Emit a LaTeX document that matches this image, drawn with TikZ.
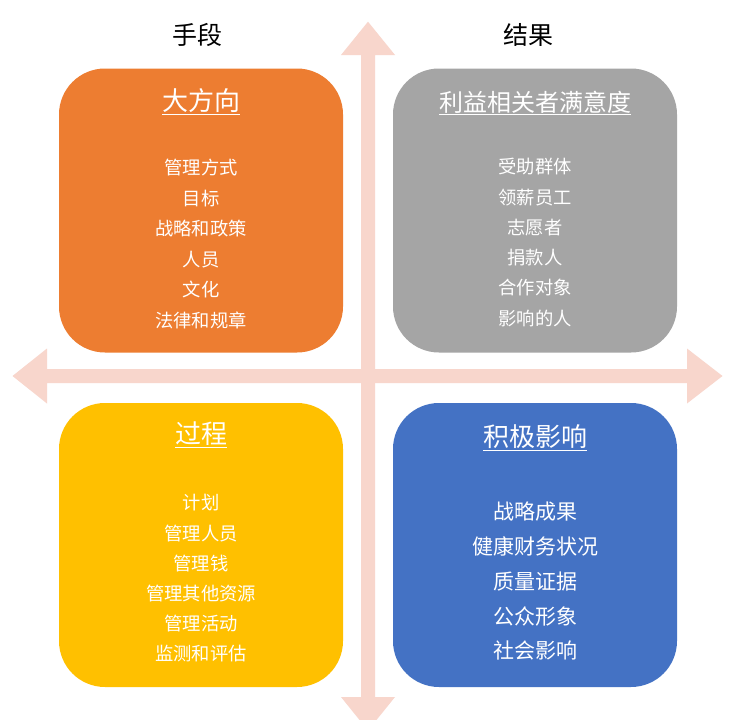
\documentclass[tikz,border=0pt]{standalone}
\usepackage{fontspec}
\setmainfont{Noto Sans CJK SC}
\definecolor{boxorange}{HTML}{ED7D31}
\definecolor{boxgray}{HTML}{A5A5A5}
\definecolor{boxyellow}{HTML}{FFC000}
\definecolor{boxblue}{HTML}{4472C4}
\definecolor{arrowpink}{HTML}{F8D6CC}
\begin{document}
\begin{tikzpicture}[x=1pt,y=-1pt,
  quad/.style={rounded corners=46pt, minimum width=284pt, minimum height=284pt, inner sep=0pt, draw=none},
  ttl/.style={text=white, inner sep=0pt, font=\fontsize{26}{30}\selectfont},
  itm/.style={text=white, inner sep=0pt, font=\fontsize{18.3}{22}\selectfont},
  itmb/.style={text=white, inner sep=0pt, font=\fontsize{21}{25}\selectfont},
  hd/.style={text=black, inner sep=0pt, font=\fontsize{25}{30}\selectfont},
  arr/.style={fill=arrowpink, draw=none}]
\clip (0,0) rectangle (748,720);
\fill[white] (0,0) rectangle (748,720);
% horizontal double arrow
\fill[arr] (12.5,376) -- (47,348.5) -- (47,369) -- (687,369) -- (687,348.5) -- (722.5,376)
  -- (687,403.5) -- (687,383) -- (47,383) -- (47,403.5) -- cycle;
% vertical double arrow
\fill[arr] (368,21.7) -- (395,55) -- (375,55) -- (375,697) -- (395,697) -- (368,730.5)
  -- (341,697) -- (361,697) -- (361,55) -- (341,55) -- cycle;
% headings
\node[hd] (h1) at (197,35) {手段};
\node[hd] (h2) at (528,35) {结果};
% boxes
\node[quad, fill=boxorange] (q1) at (201,210.5) {};
\node[quad, fill=boxgray]   (q2) at (535,210.5) {};
\node[quad, fill=boxyellow] (q3) at (201,545) {};
\node[quad, fill=boxblue]   (q4) at (535,545) {};
% titles
\node[ttl] (t1) at (201,102) {\underline{大方向}};
\node[ttl, font=\fontsize{24}{28}\selectfont] (t2) at (535,103) {\underline{利益相关者满意度}};
\node[ttl] (t3) at (201,435) {\underline{过程}};
\node[ttl] (t4) at (535,438) {\underline{积极影响}};
% items
\foreach \t [count=\i] in {管理方式,目标,战略和政策,人员,文化,法律和规章}
  \node[itm] (a\i) at (201,{168+30.4*(\i-1)}) {\t};
\foreach \t [count=\i] in {受助群体,领薪员工,志愿者,捐款人,合作对象,影响的人}
  \node[itm] (b\i) at (535,{167+30.2*(\i-1)}) {\t};
\foreach \t [count=\i] in {计划,管理人员,管理钱,管理其他资源,管理活动,监测和评估}
  \node[itm] (c\i) at (201,{503+30.2*(\i-1)}) {\t};
\foreach \t [count=\i] in {战略成果,健康财务状况,质量证据,公众形象,社会影响}
  \node[itmb] (d\i) at (535,{512+34.7*(\i-1)}) {\t};
\end{tikzpicture}
\end{document}
